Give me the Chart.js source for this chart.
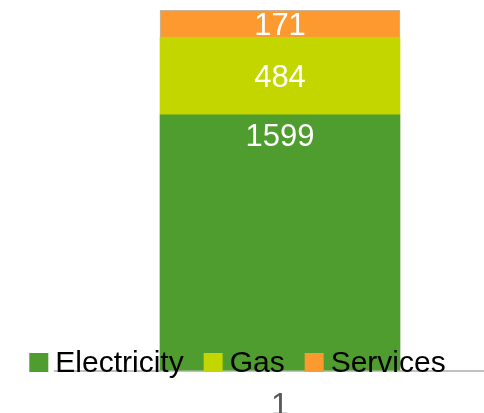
<!DOCTYPE html>
<html>
<head>
<meta charset="utf-8">
<script src="https://cdn.jsdelivr.net/npm/chart.js@4/dist/chart.umd.min.js"></script>
<style>
  html, body { margin: 0; padding: 0; background: #fff; }
  #wrap { width: 484px; height: 413px; overflow: hidden; position: relative; }
  #box { width: 505px; height: 441px; }
</style>
</head>
<body>
<div id="wrap"><div id="box"><canvas id="myChart"></canvas></div></div>
<script>
// Chart data
const categories = ["1"];
const seriesNames = ["Electricity", "Gas", "Services"];
const electricity = [1599];
const gas = [484];
const services = [171];
const seriesColors = ["#4f9c2f", "#c4d600", "#fd9a2f"];

const FONT = "'Liberation Sans', Arial, sans-serif";

// Draws the value inside each bar segment
const valueLabels = {
    id: "valueLabels",
    afterDatasetsDraw(chart) {
        const ctx = chart.ctx;
        ctx.save();
        ctx.fillStyle = "#ffffff";
        ctx.font = "31px " + FONT;
        ctx.textAlign = "center";
        ctx.textBaseline = "middle";
        chart.data.datasets.forEach((ds, i) => {
            const meta = chart.getDatasetMeta(i);
            meta.data.forEach((bar, j) => {
                // the big segment has its label near the top, the others in the middle
                const y = i === 0 ? bar.y + 23 : (bar.y + bar.base) / 2 + 2.5;
                ctx.fillText(String(ds.data[j]), bar.x, y);
            });
        });
        ctx.restore();
    }
};

// Legend drawn over the bottom of the plot, as in the original
const overlayLegend = {
    id: "overlayLegend",
    afterDraw(chart) {
        const ctx = chart.ctx;
        const box = 19, gapText = 7, gapItem = 20;
        const centerX = 237.5, boxTop = 353, baseline = 372;
        ctx.save();
        ctx.font = "30px " + FONT;
        const items = chart.data.datasets.map(ds => ({
            text: ds.label, color: ds.backgroundColor, w: ctx.measureText(ds.label).width
        }));
        let total = 0;
        items.forEach((it, k) => { total += box + gapText + it.w + (k ? gapItem : 0); });
        let x = centerX - total / 2;
        items.forEach(it => {
            ctx.fillStyle = it.color;
            ctx.fillRect(x, boxTop, box, box);
            ctx.fillStyle = "#000000";
            ctx.textBaseline = "alphabetic";
            ctx.fillText(it.text, x + box + gapText, baseline);
            x += box + gapText + it.w + gapItem;
        });
        ctx.restore();
    }
};

const ctx = document.getElementById("myChart").getContext("2d");
new Chart(ctx, {
    type: "bar",
    data: {
        labels: categories,
        datasets: [
            { label: seriesNames[0], data: electricity, backgroundColor: seriesColors[0], borderWidth: 0 },
            { label: seriesNames[1], data: gas, backgroundColor: seriesColors[1], borderWidth: 0 },
            { label: seriesNames[2], data: services, backgroundColor: seriesColors[2], borderColor: "#b8b8b8", borderWidth: 1 }
        ]
    },
    options: {
        responsive: true,
        maintainAspectRatio: false,
        animation: false,
        layout: { padding: { left: 55, top: 10, right: 0, bottom: 0 } },
        plugins: { legend: { display: false }, tooltip: { enabled: false } },
        datasets: { bar: { barThickness: 240 } },
        scales: {
            x: {
                stacked: true,
                grid: { display: false, drawTicks: false },
                border: { display: true, color: "#c0c0c0", width: 2 },
                ticks: { color: "#595959", padding: 16, font: { family: FONT, size: 32 } }
            },
            y: {
                stacked: true,
                display: false,
                min: 0,
                max: 2254
            }
        }
    },
    plugins: [valueLabels, overlayLegend]
});
</script>
</body>
</html>
